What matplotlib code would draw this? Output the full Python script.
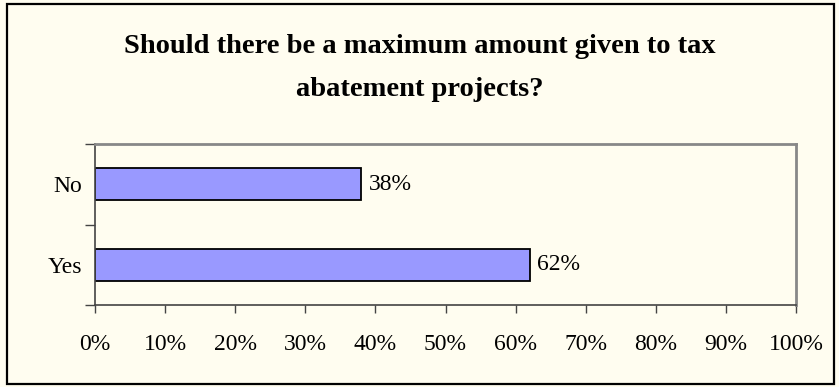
import matplotlib
matplotlib.use("Agg")
import matplotlib.pyplot as plt
from matplotlib.patches import Rectangle
from matplotlib.ticker import FuncFormatter, MultipleLocator

categories = ["Yes", "No"]
shares = [62, 38]

title = "Should there be a maximum amount given to tax\nabatement projects?"

bg = "#fffdf0"
bar_color = "#9999ff"

plt.rcParams["font.family"] = ["Liberation Serif", "DejaVu Serif"]

W, H = 839, 387
fig = plt.figure(figsize=(W / 100, H / 100), dpi=100, facecolor=bg)

# chart frame
fig.patches.append(Rectangle((7 / W, 3 / H), 827 / W, 380 / H, transform=fig.transFigure,
                             fill=False, edgecolor="black", linewidth=1.6))

ax = fig.add_axes([95 / W, 1 - 305 / H, 701 / W, 161 / H])
ax.set_facecolor(bg)

ypos = range(len(categories))
bars = ax.barh(ypos, shares, height=0.4, color=bar_color, edgecolor="black", linewidth=1.3)
for rect, val in zip(bars, shares):
    ax.text(rect.get_width() + 1.0, rect.get_y() + rect.get_height() / 2, f"{val}%",
            ha="left", va="center", fontsize=17)

ax.set_xlim(0, 100)
ax.set_ylim(-0.5, len(categories) - 0.5)
ax.xaxis.set_major_locator(MultipleLocator(10))
ax.xaxis.set_major_formatter(FuncFormatter(lambda v, _: f"{v:.0f}%"))
ax.set_yticks(list(ypos))
ax.set_yticklabels(categories)
ax.set_yticks([-0.5, 0.5, 1.5], minor=True)
ax.tick_params(axis="y", which="major", length=0, pad=9, labelsize=17)
ax.tick_params(axis="y", which="minor", length=7, width=1, color="#444444", direction="out")
ax.tick_params(axis="x", length=6, width=1, color="#444444", direction="out", pad=15, labelsize=17)

for side in ("left", "bottom"):
    ax.spines[side].set_color("#444444")
    ax.spines[side].set_linewidth(1.2)
for side in ("top", "right"):
    ax.spines[side].set_color("#888888")
    ax.spines[side].set_linewidth(2)

fig.text(0.5, 1 - 68 / H, title, ha="center", va="center", fontsize=20.5,
         fontweight="bold", linespacing=1.9)

fig.savefig("out.png", dpi=100, facecolor=bg)
